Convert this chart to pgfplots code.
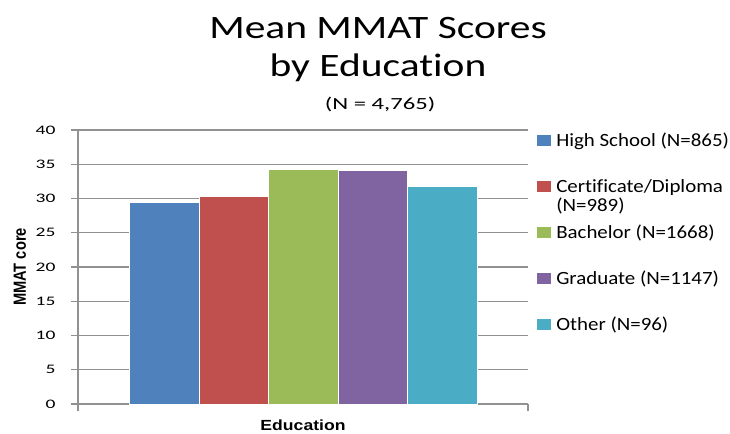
\documentclass[border=0pt]{standalone}
\usepackage{fontspec}
\setmainfont[Ligatures=NoCommon]{Carlito}
\newfontfamily\titlefont[FakeStretch=1.27,Ligatures=NoCommon]{Carlito}
\newfontfamily\subfont[FakeStretch=1.45,Ligatures=NoCommon]{Carlito}
\newfontfamily\tickfont[FakeStretch=1.5,Ligatures=NoCommon]{Carlito}
\newfontfamily\legfont[FakeStretch=1.12,Ligatures=NoCommon]{Carlito}
\newfontfamily\labfont[FakeStretch=1.2]{Liberation Sans}
\newfontfamily\ylabfont{Liberation Sans}
\usepackage{graphicx}
\usepackage{pgfplots}
\pgfplotsset{compat=1.18}
\definecolor{c1}{HTML}{4F81BD}
\definecolor{c2}{HTML}{C0504D}
\definecolor{c3}{HTML}{9BBB59}
\definecolor{c4}{HTML}{8064A2}
\definecolor{c5}{HTML}{4BACC6}
\definecolor{axgray}{HTML}{919191}
\begin{document}
\begin{tikzpicture}
\useasboundingbox (0pt,0pt) rectangle (547.5pt,-324.75pt);
\begin{axis}[
  at={(58.5pt,-303pt)}, anchor=south west,
  scale only axis, width=337.5pt, height=205.5pt,
  xmin=0, xmax=1, ymin=0, ymax=40,
  ytick={0,5,...,40},
  xtick={0,1}, xticklabels={},
  axis x line=bottom, axis y line=left,
  axis line style={-, draw=axgray, line width=0.9pt},
  ymajorgrids, grid style={draw=axgray, line width=0.9pt},
  tick align=outside, major tick length=5.25pt,
  tick style={draw=axgray, line width=0.9pt},
  /pgf/number format/assume math mode=true,
  yticklabel style={font=\tickfont\fontsize{9.75}{11}\selectfont, anchor=east, inner sep=0pt, xshift=-11.5pt},
  xlabel={Education},
  xlabel style={at={(axis description cs:0.5,-0.079)}, anchor=center, font=\labfont\bfseries\fontsize{11}{13}\selectfont},
  ylabel={\scalebox{1}[1.2]{MMAT core}},
  ylabel style={at={(axis description cs:-0.129,0.5)}, anchor=center, font=\ylabfont\bfseries\fontsize{11}{13}\selectfont},
  ybar=0pt, bar width=52.125pt,
  legend cell align=left,
  legend image code/.code={\fill[#1] (0pt,-4.5pt) rectangle (11.25pt,4.5pt);},
  legend style={at={(axis description cs:1.0178,1.0474)}, anchor=north west,
    draw=none, fill=none, inner sep=0pt, outer sep=0pt, row sep=0pt, column sep=3.75pt,
    font=\legfont\fontsize{14}{13.5}\selectfont,
    nodes={inner sep=0pt, text height=21.75pt, text depth=12.75pt},
    cells={anchor=west}},
]
\addplot[fill=c1, draw=white, line width=0.2pt] coordinates {(0.5,29.4)};
\addplot[fill=c2, draw=white, line width=0.2pt] coordinates {(0.5,30.3)};
\addplot[fill=c3, draw=white, line width=0.2pt] coordinates {(0.5,34.3)};
\addplot[fill=c4, draw=white, line width=0.2pt] coordinates {(0.5,34.1)};
\addplot[fill=c5, draw=white, line width=0.2pt] coordinates {(0.5,31.8)};
\legend{High School (N=865), {\begin{tabular}[t]{@{}l@{}}Certificate/Diploma\\(N=989)\end{tabular}}, Bachelor (N=1668), Graduate (N=1147), Other (N=96)}
\end{axis}
\node[anchor=base, font=\titlefont\fontsize{24.5}{29}\selectfont] at (283.5pt,-28.5pt) {Mean MMAT Scores};
\node[anchor=base, font=\titlefont\fontsize{24.5}{29}\selectfont] at (283.5pt,-57.5pt) {by Education};
\node[anchor=base, font=\subfont\fontsize{12.75}{15}\selectfont] at (285pt,-81.75pt) {(N = 4,765)};
\end{tikzpicture}
\end{document}
